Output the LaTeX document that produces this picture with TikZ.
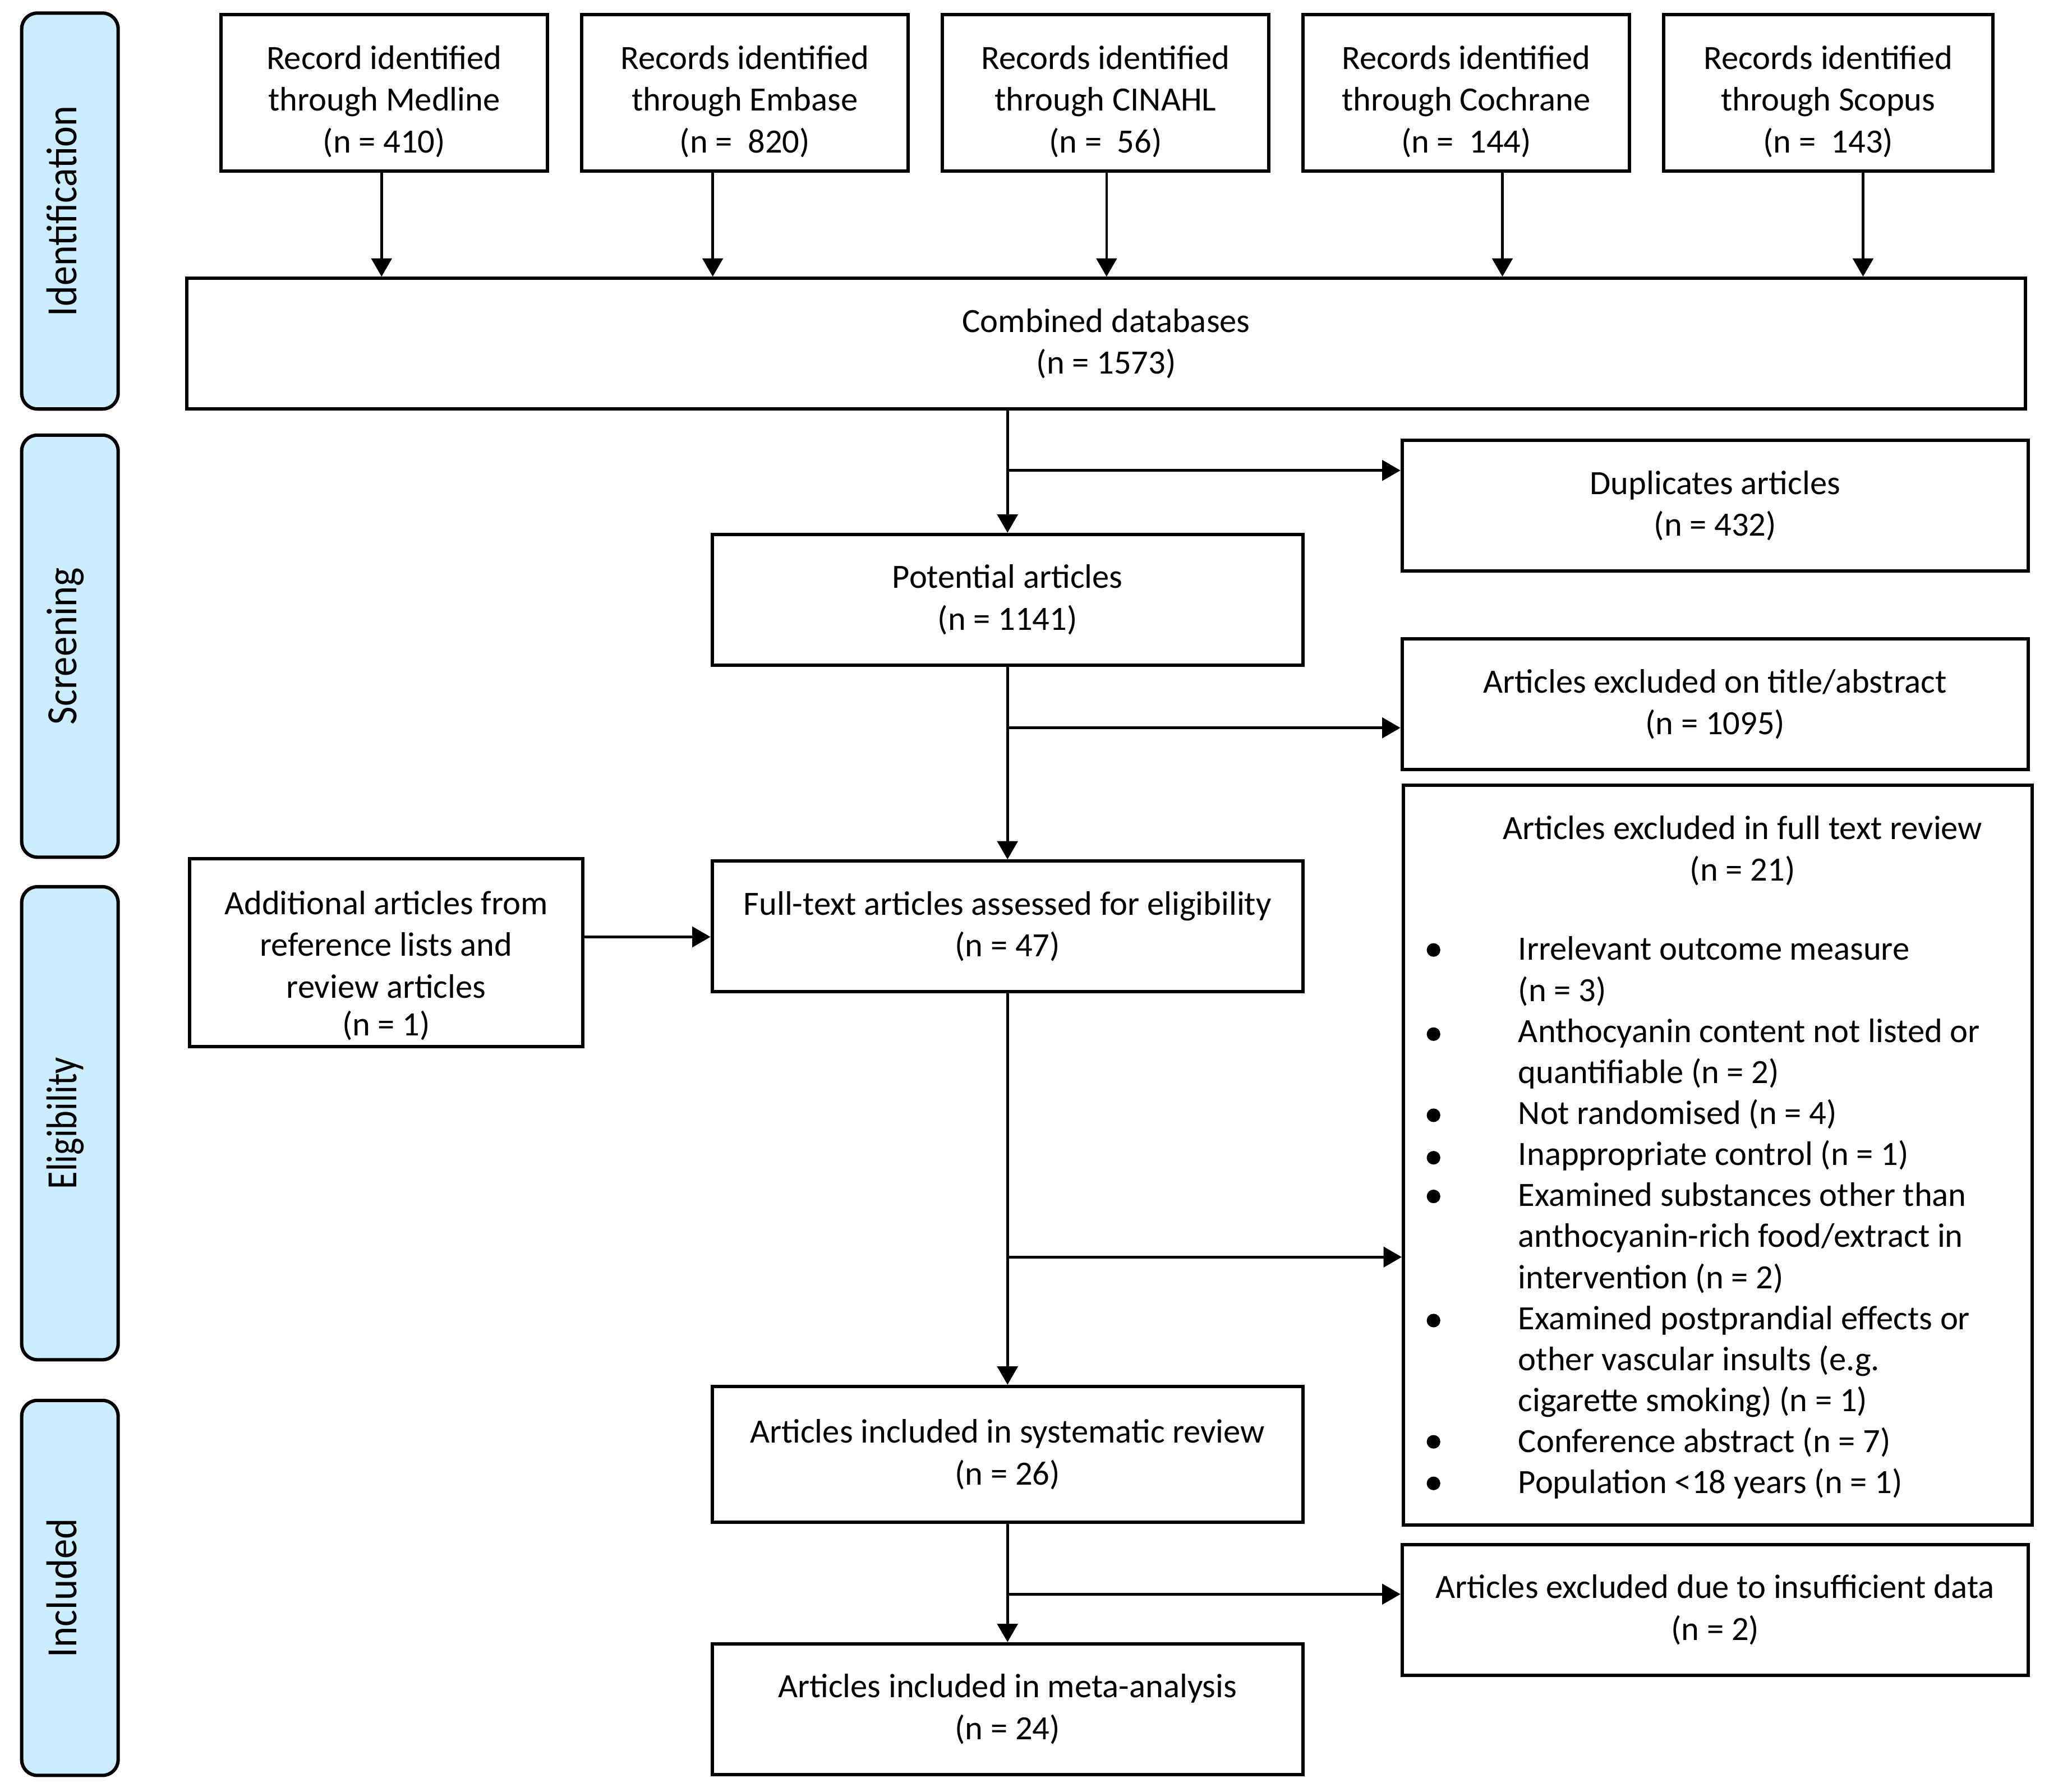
\documentclass[tikz,border=0pt]{standalone}
\usepackage{fontspec}
\setmainfont{Carlito}
\usetikzlibrary{arrows.meta}
\definecolor{barblue}{RGB}{204,236,255}
\newcommand{\tstrut}{\rule{0pt}{15.6pt}}
\begin{document}
\begin{tikzpicture}[x=0.5pt,y=-0.5pt,
  box/.style={draw, line width=1.3pt, inner sep=0pt, align=center, font=\fontsize{13}{16}\selectfont},
  txt/.style={inner sep=0pt, align=center, font=\fontsize{13}{16}\selectfont},
  bar/.style={draw, line width=1.3pt, fill=barblue, rounded corners=6pt, minimum width=36.9pt, inner sep=0pt},
  phase/.style={rotate=90, anchor=base, inner sep=0pt, font=\fontsize{16.5}{18}\selectfont},
  arr/.style={line width=1pt, -{Triangle[length=7pt,width=7.8pt]}}]
\useasboundingbox (0,0) rectangle (1568,1371.4);

% phase bars
\node[bar, minimum height=151.5pt] (ident) at (53.5,161.5) {};
\node[bar, minimum height=161.5pt] (screen) at (53.5,494.5) {};
\node[bar, minimum height=181pt] (elig) at (53.5,859.6) {};
\node[bar, minimum height=143.5pt] (incl) at (53.5,1215.2) {};
\node[phase] (identl) at (ident.center -| 58.7,0) {\scalebox{0.91}[1]{Identification}};
\node[phase] (screenl) at (screen.center -| 58.7,0) {\scalebox{0.92}[1]{Screening}};
\node[phase] (eligl) at (elig.center -| 58.7,0) {\scalebox{0.84}[1]{Eligibility}};
\node[phase] (incll) at (incl.center -| 58.7,0) {\scalebox{0.92}[1]{Included}};

% top row
\node[box, minimum width=125pt, minimum height=60pt] (med) at (294,71) {\tstrut Record identified\\through Medline\\(n = 410)};
\node[box, minimum width=125pt, minimum height=60pt] (emb) at (570,71) {\tstrut Records identified\\through Embase\\(n = \ 820)};
\node[box, minimum width=125pt, minimum height=60pt] (cin) at (846,71) {\tstrut Records identified\\through CINAHL\\(n = \ 56)};
\node[box, minimum width=125pt, minimum height=60pt] (coc) at (1122,71) {\tstrut Records identified\\through Cochrane\\(n = \ 144)};
\node[box, minimum width=126pt, minimum height=60pt] (sco) at (1399,71) {\tstrut Records identified\\through Scopus\\(n = \ 143)};

\node[box, minimum width=703.5pt, minimum height=50pt] (comb) at (846.5,263) {Combined databases\\(n = 1573)};

\node[box, minimum width=239.5pt, minimum height=50pt] (dup) at (1312.5,387) {Duplicates articles\\(n = 432)};
\node[box, minimum width=226pt, minimum height=50pt] (pot) at (771,459) {Potential articles\\(n = 1141)};
\node[box, minimum width=239.5pt, minimum height=50pt] (tiab) at (1312.5,539) {Articles excluded on title/abstract\\(n = 1095)};
\node[box, minimum width=226pt, minimum height=50pt] (full) at (771,709) {Full-text articles assessed for eligibility\\(n = 47)};
\node[box, minimum width=150.5pt, minimum height=72pt] (add) at (295.5,729) {};
\node[txt] (addt) at (295.5,739) {Additional articles from\\reference lists and\\review articles\\[-1.5pt](n = 1)};

\node[box, minimum width=240.5pt, minimum height=283pt] (ftr) at (1314.5,884) {};
\node[txt] (ftrt) at (1333.5,651) {Articles excluded in full text review\\(n = 21)};
\node[anchor=base west, align=left, inner sep=0pt, font=\fontsize{13}{15.7}\selectfont] (exlist) at (1161.5,1143)
{Irrelevant outcome measure\\
(n = 3)\\
Anthocyanin content not listed or\\
quantifiable (n = 2)\\
Not randomised (n = 4)\\
Inappropriate control (n = 1)\\
Examined substances other than\\
anthocyanin-rich food/extract in\\
intervention (n = 2)\\
Examined postprandial effects or\\
other vascular insults (e.g.\\
cigarette smoking) (n = 1)\\
Conference abstract (n = 7)\\
Population <18 years (n = 1)};
% list bullets
\foreach \by in {727,791.4,853.5,886,915.6,1010.6,1103.4,1135.2}
  \fill (1097,\by) circle (2.6pt);

\node[box, minimum width=226pt, minimum height=52pt] (sys) at (771,1113) {Articles included in systematic review\\(n = 26)};
\node[box, minimum width=239.5pt, minimum height=50pt] (ins) at (1312.5,1232) {Articles excluded due to insufficient data\\(n = 2)};
\node[box, minimum width=226pt, minimum height=50pt] (meta) at (771,1308) {Articles included in meta-analysis\\(n = 24)};

% connectors
\draw[arr] ([xshift=-1pt]med.south) -- ([xshift=-1pt]med.south |- comb.north);
\draw[arr] ([xshift=-12.3pt]emb.south) -- ([xshift=-12.3pt]emb.south |- comb.north);
\draw[arr] ([xshift=0.4pt]cin.south) -- ([xshift=0.4pt]cin.south |- comb.north);
\draw[arr] ([xshift=13.85pt]coc.south) -- ([xshift=13.85pt]coc.south |- comb.north);
\draw[arr] ([xshift=13.35pt]sco.south) -- ([xshift=13.35pt]sco.south |- comb.north);

\draw[arr] (pot.north |- comb.south) -- (pot.north);
\coordinate (b1) at (771,360);
\draw[arr] (b1) -- (b1 -| dup.west);
\draw[arr] (pot.south) -- (full.north);
\coordinate (b2) at (771,557);
\draw[arr] (b2) -- (b2 -| tiab.west);
\draw[arr] (add.east |- 0,717) -- (full.west |- 0,717);
\draw[arr] (full.south) -- (sys.north);
\coordinate (b4) at (771,962);
\draw[arr] (b4) -- (b4 -| ftr.west);
\draw[arr] (sys.south) -- (meta.north);
\coordinate (b5) at (771,1220);
\draw[arr] (b5) -- (b5 -| ins.west);
\end{tikzpicture}
\end{document}
